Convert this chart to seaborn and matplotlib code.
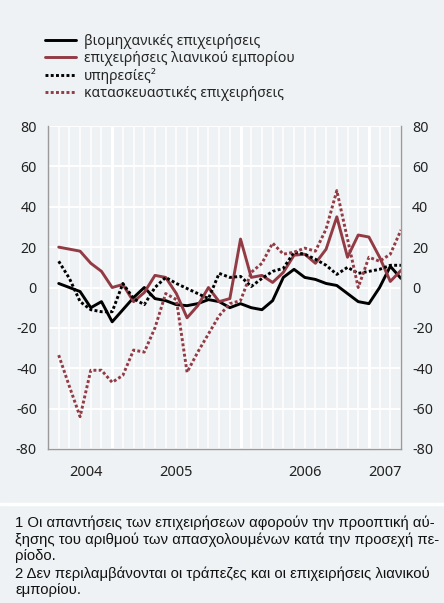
import numpy as np
import pandas as pd
import seaborn as sns
import matplotlib.pyplot as plt
from matplotlib.lines import Line2D

# monthly survey balances, Aug 2004 - Apr 2007
months = pd.date_range("2004-08-01", periods=33, freq="MS")
industry = [2, 0, -2, -10, -7, -17, -11, -5, 0, -5.5, -6.5, -8.5, -9, -8, -6, -7,
            -10, -8, -10, -11, -6.5, 5, 9, 5, 4, 2, 1, -3, -7, -8, 0, 10.5, 4.5]
retail = [20, 19, 18, 12, 8, 0, 1.5, -7, -2.5, 6, 5, -3, -15, -9, 0, -7,
          -5.5, 24, 5, 6, 2.5, 7.5, 16, 16.5, 12, 19, 35, 15, 26, 25, 15, 3, 8.5]
services = [13, 4.5, -7, -11, -12, -12, 2, -5.5, -8.5, 0, 5, 2, -0.5, -3, -5.5, 7,
            5, 5.5, 0.5, 4.5, 8, 9.5, 17.5, 16.5, 14, 11, 6.5, 10, 7, 8, 9, 11, 11]
construction = [-33.5, -49, -64, -41, -41, -47, -43.5, -31, -32, -20, -3, -6, -42, -32, -23, -14,
                -8, -6.5, 7.5, 12, 22, 16.5, 17.5, 19.5, 18, 29, 48, 24, 0, 15, 13, 16.5, 28.5]

series_names = ["βιομηχανικές επιχειρήσεις", "επιχειρήσεις λιανικού εμπορίου",
                "υπηρεσίες²", "κατασκευαστικές επιχειρήσεις"]
y_ticks = [-80, -60, -40, -20, 0, 20, 40, 60, 80]
years = [2004, 2005, 2006, 2007]

footnote = ("1 Οι απαντήσεις των επιχειρήσεων αφορούν την προοπτική αύ-\n"
            "ξησης του αριθμού των απασχολουμένων κατά την προσεχή πε-\n"
            "ρίοδο.\n"
            "2 Δεν περιλαμβάνονται οι τράπεζες και οι επιχειρήσεις λιανικού\n"
            "εμπορίου.")

bg = "#eef2f4"
red = "#933b45"

sns.set_style("white", {"axes.facecolor": bg, "figure.facecolor": bg})
plt.rcParams["font.family"] = ["Noto Sans", "DejaVu Sans"]

idx = np.arange(len(months))
df = pd.DataFrame({"idx": np.tile(idx, 4),
                   "value": industry + retail + services + construction,
                   "series": np.repeat(series_names, len(months))})

fig = plt.figure(figsize=(4.44, 6.03), dpi=100)
ax = fig.add_axes([48 / 444, 1 - 449 / 603, (401 - 48) / 444, (449 - 126) / 603])

# white grid: horizontal every 20, vertical every month, thicker at January
for v in y_ticks:
    ax.axhline(v, color="white", lw=1.4, zorder=0)
jan = [i for i, m in enumerate(months) if m.month == 1]
for i in idx:
    ax.axvline(i, color="white", lw=2.2 if i in jan else 1.1, zorder=0)

palette = {series_names[0]: "black", series_names[1]: red,
           series_names[2]: "black", series_names[3]: red}
dashes = {series_names[0]: "", series_names[1]: "",
          series_names[2]: (1, 0.8), series_names[3]: (1, 0.8)}
sns.lineplot(data=df, x="idx", y="value", hue="series", style="series",
             palette=palette, dashes=dashes, linewidth=2.1, ax=ax)

ax.set_xlim(-1, len(months) - 1)
ax.set_ylim(-80, 80)
ax.set_xlabel("")
ax.set_ylabel("")

ax.spines["top"].set_visible(False)
for s in ["left", "right", "bottom"]:
    ax.spines[s].set_color("#9a9a9a")
    ax.spines[s].set_linewidth(1)

ax.set_yticks(y_ticks)
ax.set_yticklabels([str(v) for v in y_ticks])
ax.tick_params(axis="y", length=0, labelsize=10.2, pad=8, labelright=True, right=False,
               colors="#222222")

ax.set_xticks(jan)
ax.set_xticks(idx, minor=True)
ax.set_xticklabels([])
ax.tick_params(axis="x", which="major", length=8, width=1, color="#9a9a9a")
ax.tick_params(axis="x", which="minor", length=3, width=1, color="#9a9a9a")

# year labels centred on each year's span
bounds = [0] + jan + [len(months) - 1]
for k, yr in enumerate(years):
    ax.text((bounds[k] + bounds[k + 1]) / 2, -0.05, str(yr), transform=ax.get_xaxis_transform(),
            ha="center", va="top", fontsize=10.5, color="#222222")

handles, labels = ax.get_legend_handles_labels()
ax.legend(handles, labels, loc="upper left", bbox_to_anchor=(45 / 444, 1 - 34 / 603),
          bbox_transform=fig.transFigure, frameon=False, fontsize=10.1,
          handlelength=2.2, handletextpad=0.55, labelspacing=0.15, borderpad=0,
          borderaxespad=0)

fig.add_artist(Line2D([0, 1], [1 - 504 / 603, 1 - 504 / 603], color="white", lw=2.5,
                      transform=fig.transFigure))
fig.text(15 / 444, 1 - 515 / 603, footnote, ha="left", va="top", fontsize=10.7,
         family=["Liberation Sans", "DejaVu Sans"], linespacing=1.24, color="#111111")

fig.savefig("out.png", dpi=100, facecolor=bg)
